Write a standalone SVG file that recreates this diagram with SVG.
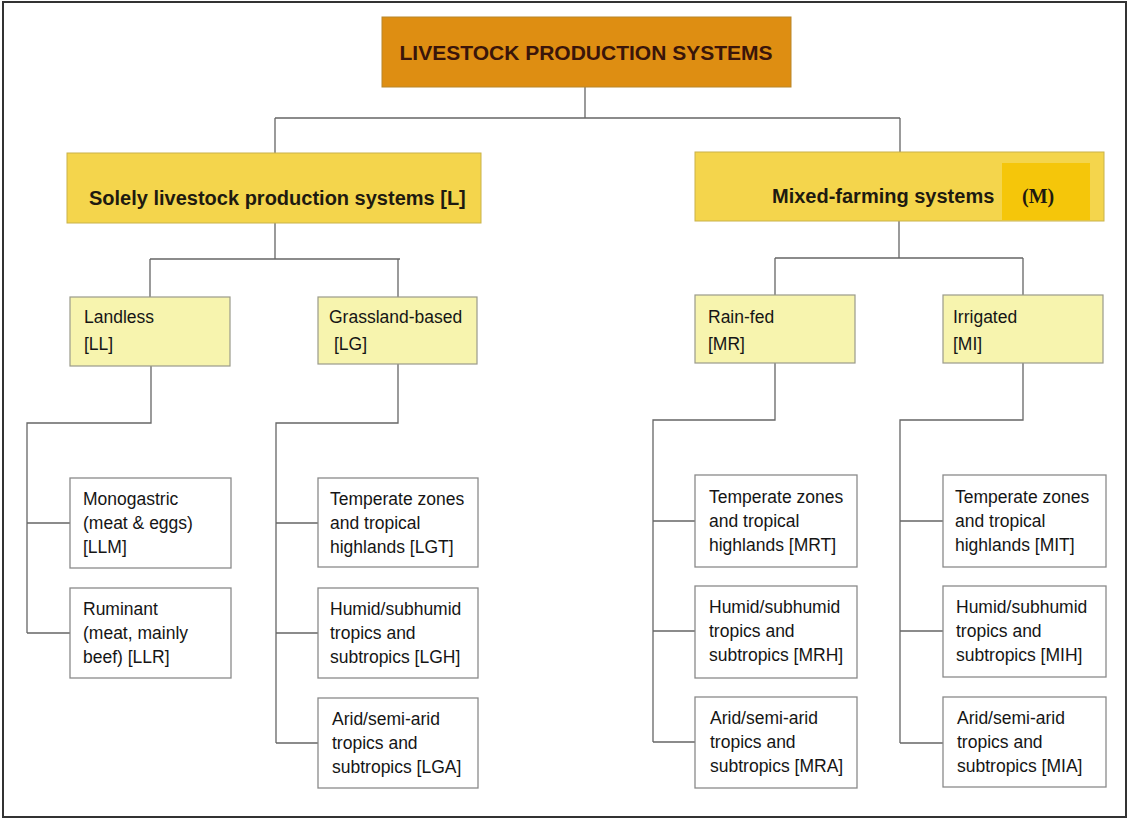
<svg xmlns="http://www.w3.org/2000/svg" width="1128" height="819" viewBox="0 0 1128 819">
<style>
.frame{fill:#fff;stroke:#333;stroke-width:2}
.lvl1{fill:#DE8E12;stroke:#B8862a;stroke-width:1}
.lvl2{fill:#F4D54C;stroke:#C9B24a;stroke-width:1}
.lvl3{fill:#F7F4AE;stroke:#9a9a8a;stroke-width:1.2}
.lvl4{fill:#fff;stroke:#8a8a8a;stroke-width:1.3}
.conn{fill:none;stroke:#666;stroke-width:1.3}
.t1{font-family:"Liberation Sans",Arial,sans-serif;font-weight:bold;font-size:21px;fill:#3a150a}
.t2{font-family:"Liberation Sans",Arial,sans-serif;font-weight:bold;font-size:20px;fill:#1e1a10}
.tm{font-family:"Liberation Serif","Times New Roman",serif;font-weight:bold;font-size:20px;fill:#1e1a10}
.t3{font-family:"Liberation Sans",Arial,sans-serif;font-size:17.5px;fill:#151515}
</style>
<rect class="frame" x="3" y="2" width="1123" height="815"/>
<g id="connectors">
<path class="conn" d="M585 87V118M275 118H900M275 118V153M900 118V152"/>
<path class="conn" d="M275 223V259M150 259H400M150 259V297M398 259V297"/>
<path class="conn" d="M899 221V258M775 258H1023M775 258V295M1023 258V295"/>
<path class="conn" d="M151 366V423H27V633M27 523H70M27 633H70"/>
<path class="conn" d="M398 364V423H276V743M276 523H318M276 633H318M276 743H318"/>
<path class="conn" d="M775 363V420H653V742M653 521H695M653 631H695M653 742H695"/>
<path class="conn" d="M1023 363V420H900V743M900 521H943M900 631H943M900 743H943"/>
</g>
<g id="n_root">
<rect class="lvl1" x="382" y="17" width="409" height="70"/>
<text class="t1" x="586" y="60" text-anchor="middle">LIVESTOCK PRODUCTION SYSTEMS</text>
</g>
<g id="n_L">
<rect class="lvl2" x="67" y="153" width="414" height="70"/>
<text class="t2" x="89" y="205">Solely livestock production systems [L]</text>
</g>
<g id="n_M">
<rect class="lvl2" x="695" y="152" width="409" height="69"/>
<rect x="1002" y="163" width="88" height="57" fill="#F5C60A"/>
<text class="t2" x="772" y="203">Mixed-farming systems</text>
<text class="tm" x="1022" y="203">(M)</text>
</g>
<g id="n_LL">
<rect class="lvl3" x="70" y="297" width="160" height="69"/>
<text class="t3" x="84" y="323">Landless</text>
<text class="t3" x="84" y="350">[LL]</text>
</g>
<g id="n_LG">
<rect class="lvl3" x="318" y="297" width="159" height="67"/>
<text class="t3" x="329" y="323">Grassland-based</text>
<text class="t3" x="334" y="350">[LG]</text>
</g>
<g id="n_MR">
<rect class="lvl3" x="695" y="295" width="160" height="68"/>
<text class="t3" x="708" y="323">Rain-fed</text>
<text class="t3" x="708" y="350">[MR]</text>
</g>
<g id="n_MI">
<rect class="lvl3" x="943" y="295" width="160" height="68"/>
<text class="t3" x="953" y="323">Irrigated</text>
<text class="t3" x="953" y="350">[MI]</text>
</g>
<g id="n_LLM">
<rect class="lvl4" x="70" y="478" width="161" height="90"/>
<text class="t3" x="83" y="505">Monogastric</text>
<text class="t3" x="83" y="529">(meat &amp; eggs)</text>
<text class="t3" x="83" y="553">[LLM]</text>
</g>
<g id="n_LLR">
<rect class="lvl4" x="70" y="588" width="161" height="90"/>
<text class="t3" x="83" y="615">Ruminant</text>
<text class="t3" x="83" y="639">(meat, mainly</text>
<text class="t3" x="83" y="663">beef) [LLR]</text>
</g>
<g id="n_LGT">
<rect class="lvl4" x="318" y="478" width="160" height="89"/>
<text class="t3" x="330" y="505">Temperate zones</text>
<text class="t3" x="330" y="529">and tropical</text>
<text class="t3" x="330" y="553">highlands [LGT]</text>
</g>
<g id="n_LGH">
<rect class="lvl4" x="318" y="588" width="160" height="90"/>
<text class="t3" x="330" y="615">Humid/subhumid</text>
<text class="t3" x="330" y="639">tropics and</text>
<text class="t3" x="330" y="663">subtropics [LGH]</text>
</g>
<g id="n_LGA">
<rect class="lvl4" x="318" y="698" width="160" height="90"/>
<text class="t3" x="332" y="725">Arid/semi-arid</text>
<text class="t3" x="332" y="749">tropics and</text>
<text class="t3" x="332" y="773">subtropics [LGA]</text>
</g>
<g id="n_MRT">
<rect class="lvl4" x="695" y="475" width="162" height="92"/>
<text class="t3" x="709" y="503">Temperate zones</text>
<text class="t3" x="709" y="527">and tropical</text>
<text class="t3" x="709" y="551">highlands [MRT]</text>
</g>
<g id="n_MRH">
<rect class="lvl4" x="695" y="586" width="162" height="92"/>
<text class="t3" x="709" y="613">Humid/subhumid</text>
<text class="t3" x="709" y="637">tropics and</text>
<text class="t3" x="709" y="661">subtropics [MRH]</text>
</g>
<g id="n_MRA">
<rect class="lvl4" x="695" y="697" width="162" height="91"/>
<text class="t3" x="710" y="724">Arid/semi-arid</text>
<text class="t3" x="710" y="748">tropics and</text>
<text class="t3" x="710" y="772">subtropics [MRA]</text>
</g>
<g id="n_MIT">
<rect class="lvl4" x="943" y="475" width="163" height="92"/>
<text class="t3" x="955" y="503">Temperate zones</text>
<text class="t3" x="955" y="527">and tropical</text>
<text class="t3" x="955" y="551">highlands [MIT]</text>
</g>
<g id="n_MIH">
<rect class="lvl4" x="943" y="586" width="163" height="91"/>
<text class="t3" x="956" y="613">Humid/subhumid</text>
<text class="t3" x="956" y="637">tropics and</text>
<text class="t3" x="956" y="661">subtropics [MIH]</text>
</g>
<g id="n_MIA">
<rect class="lvl4" x="943" y="697" width="163" height="90"/>
<text class="t3" x="957" y="724">Arid/semi-arid</text>
<text class="t3" x="957" y="748">tropics and</text>
<text class="t3" x="957" y="772">subtropics [MIA]</text>
</g>
</svg>
